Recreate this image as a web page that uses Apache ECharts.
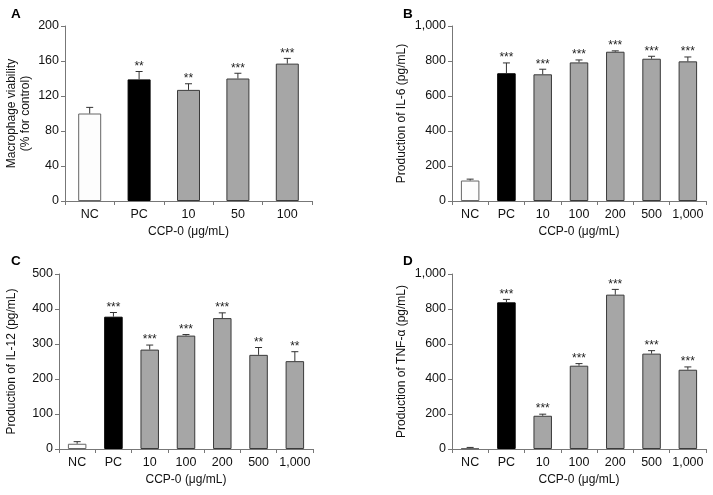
<!DOCTYPE html>
<html><head><meta charset="utf-8">
<script src="https://cdn.jsdelivr.net/npm/echarts@6/dist/echarts.min.js"></script>
<style>html,body{margin:0;padding:0;background:#fff}#c{width:713px;height:495px}</style>
</head><body><div id="c"></div>
<script>
// Panel A
const catsA = ['NC','PC','10','50','100'];
const meanA = [100,139,127,140,157];
const sdA = [7,9,7,6,6];
const starsA = ['','**','**','***','***'];
// Panel B
const catsB = ['NC','PC','10','100','200','500','1,000'];
const meanB = [117,730,724,792,853,813,798];
const sdB = [8,59,29,14,5,14,25];
const starsB = ['','***','***','***','***','***','***'];
// Panel C
const catsC = ['NC','PC','10','100','200','500','1,000'];
const meanC = [15,378,284,324,374,269,251];
const sdC = [6,12,13,3,15,21,27];
const starsC = ['','***','***','***','***','**','**'];
// Panel D
const catsD = ['NC','PC','10','100','200','500','1,000'];
const meanD = [5,838,190,476,882,545,453];
const sdD = [4,17,9,12,30,17,16];
const starsD = ['','***','***','***','***','***','***'];

const FONT = '"Liberation Sans", Arial, sans-serif';
const AX = '#777';

const panels = [
  {cats:catsA, mean:meanA, sd:sdA, stars:starsA, max:200, interval:40, yname:'Macrophage viability\n(% for control)', grid:{left:65, top:26, width:247, height:175}, nameGap:32, bw:23, comma:false},
  {cats:catsB, mean:meanB, sd:sdB, stars:starsB, max:1000, interval:200, yname:'Production of IL-6 (pg/mL)', grid:{left:452, top:26, width:254, height:175}, nameGap:43, bw:18.5, comma:true},
  {cats:catsC, mean:meanC, sd:sdC, stars:starsC, max:500, interval:100, yname:'Production of IL-12 (pg/mL)', grid:{left:59, top:274, width:254, height:175}, nameGap:40, bw:18.5, comma:false},
  {cats:catsD, mean:meanD, sd:sdD, stars:starsD, max:1000, interval:200, yname:'Production of TNF-\u03b1 (pg/mL)', grid:{left:452, top:274, width:254, height:175}, nameGap:43, bw:18.5, comma:true}
];

function barColor(i){ return i===0 ? '#fdfdfd' : (i===1 ? '#000' : '#a6a6a6'); }
function barBorder(i){ return i===0 ? '#666' : (i===1 ? '#000' : '#3a3a3a'); }

const grid=[], xAxis=[], yAxis=[], series=[];
panels.forEach((p, k) => {
  grid.push(Object.assign({containLabel:false}, p.grid));
  xAxis.push({
    type:'category', gridIndex:k, data:p.cats, boundaryGap:true,
    name:'CCP-0 (\u03bcg/mL)', nameLocation:'middle', nameGap:25,
    nameTextStyle:{fontFamily:FONT, fontSize:12, color:'#111'},
    axisLine:{lineStyle:{color:AX, width:1}},
    axisTick:{show:true, length:4, alignWithLabel:false, lineStyle:{color:AX}},
    axisLabel:{fontFamily:FONT, fontSize:12.5, color:'#111', margin:7, interval:0}
  });
  yAxis.push({
    type:'value', gridIndex:k, min:0, max:p.max, interval:p.interval,
    name:p.yname, nameLocation:'middle', nameGap:p.nameGap, nameRotate:90,
    nameTextStyle:{fontFamily:FONT, fontSize:12, color:'#111', lineHeight:14},
    axisLine:{show:true, lineStyle:{color:AX, width:1}},
    axisTick:{show:true, length:4, lineStyle:{color:AX}},
    splitLine:{show:false},
    axisLabel:{fontFamily:FONT, fontSize:12.5, color:'#111', margin:6,
      formatter: v => p.comma ? v.toLocaleString('en-US') : String(v)}
  });
  series.push({
    type:'bar', xAxisIndex:k, yAxisIndex:k, barWidth:p.bw,
    data:p.mean.map((v,i)=>({value:v, itemStyle:{color:barColor(i), borderColor:barBorder(i), borderWidth:1}})),
    silent:true, animation:false, z:2
  });
  series.push({
    type:'custom', xAxisIndex:k, yAxisIndex:k, animation:false, silent:true, z:3,
    data:p.mean.map((v,i)=>[i, v, p.sd[i], p.stars[i]]),
    renderItem:(params, api) => {
      const i = api.value(0), m = api.value(1), s = api.value(2);
      const star = p.stars[i];
      const base = api.coord([i, m]);
      const top = api.coord([i, m + s]);
      const x = base[0];
      const cap = 3.5;
      const children = [
        {type:'line', shape:{x1:x, y1:base[1], x2:x, y2:top[1]}, style:{stroke:'#333', lineWidth:1}},
        {type:'line', shape:{x1:x-cap, y1:top[1], x2:x+cap, y2:top[1]}, style:{stroke:'#333', lineWidth:1}}
      ];
      if (star) children.push({type:'text', style:{text:star, x:x, y:top[1]+1, align:'center', verticalAlign:'bottom', fontFamily:FONT, fontSize:12, fill:'#222'}});
      return {type:'group', children};
    }
  });
});

const chart = echarts.init(document.getElementById('c'), null, {renderer:'canvas'});
chart.setOption({
  animation:false,
  backgroundColor:'#fff',
  title:[
    {text:'A', left:6, top:2, textStyle:{fontFamily:FONT, fontSize:13.5, fontWeight:'bold', color:'#000'}},
    {text:'B', left:398, top:2, textStyle:{fontFamily:FONT, fontSize:13.5, fontWeight:'bold', color:'#000'}},
    {text:'C', left:6, top:249, textStyle:{fontFamily:FONT, fontSize:13.5, fontWeight:'bold', color:'#000'}},
    {text:'D', left:398, top:249, textStyle:{fontFamily:FONT, fontSize:13.5, fontWeight:'bold', color:'#000'}}
  ],
  grid, xAxis, yAxis, series
});
</script></body></html>
